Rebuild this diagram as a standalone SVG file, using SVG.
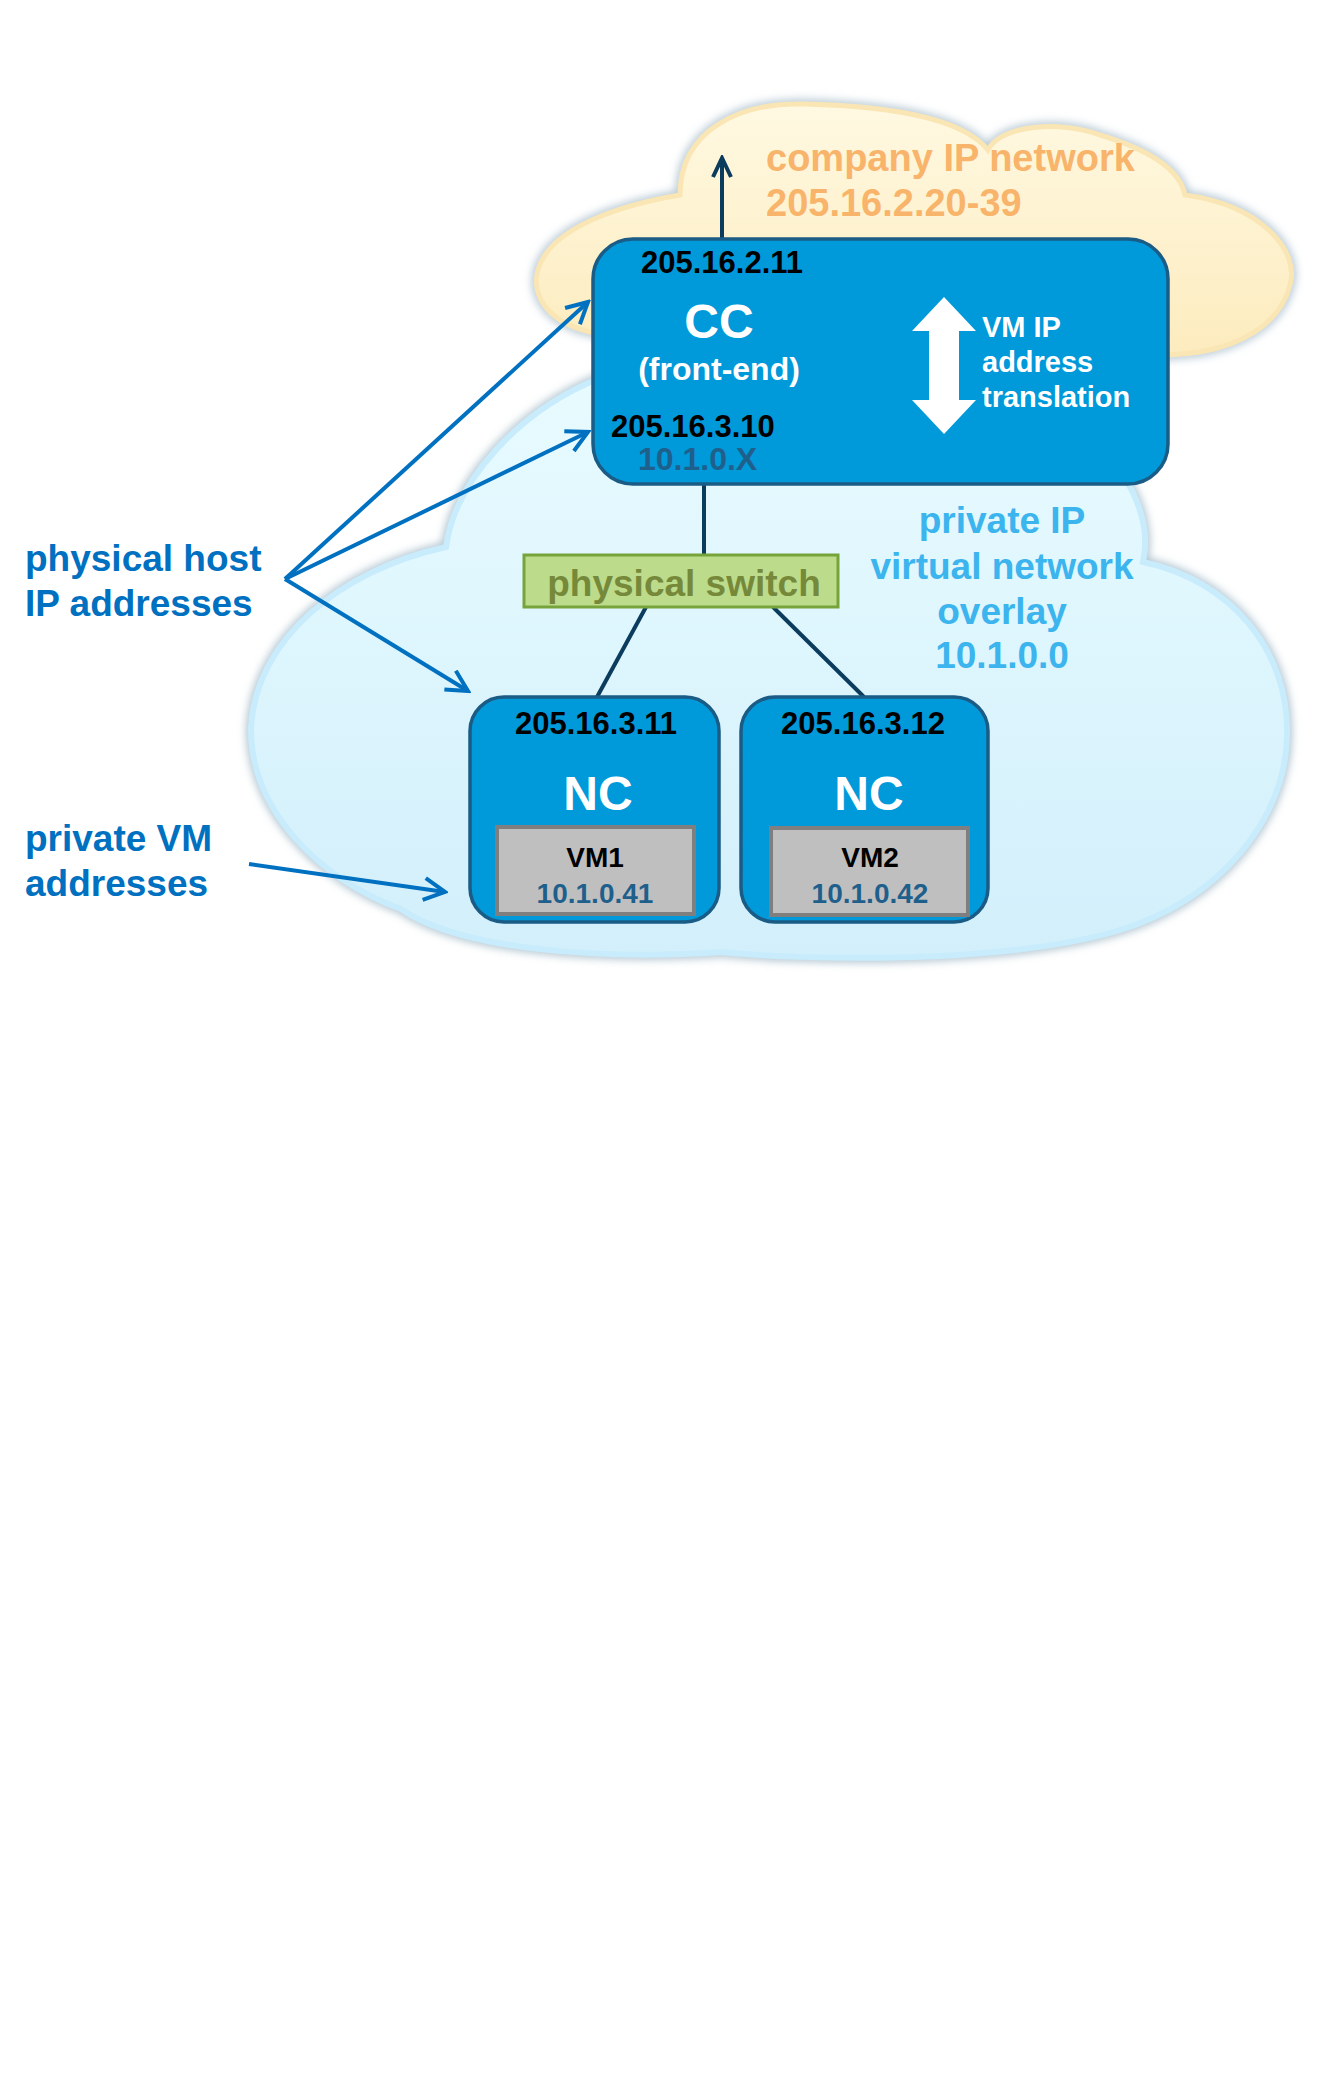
<svg xmlns="http://www.w3.org/2000/svg" width="1322" height="2097" viewBox="0 0 1322 2097">
<defs>
<style>
text{font-family:"Liberation Sans",Arial,sans-serif;font-weight:bold}
.box{fill:#0099d9;stroke:#1a5c85;stroke-width:3.5}
.vm{fill:#bfbfbf;stroke:#7f7f7f;stroke-width:4}
.ip{fill:#000;font-size:31px}
.big{fill:#fff;font-size:48px}
.wt{fill:#fff}
.dk{fill:#1f5f8c}
.lbl{fill:#0070c0;font-size:37px}
.ov{fill:#3cb4ee;font-size:37px;text-anchor:middle}
.net{stroke:#0b3c5d;stroke-width:4;fill:none}
.ptr{stroke:#0070c0;stroke-width:4;fill:none}
.mid{text-anchor:middle}
</style>
<linearGradient id="gy" x1="0" y1="0" x2="0" y2="1">
<stop offset="0" stop-color="#fff9e2"/>
<stop offset="1" stop-color="#fcebbd"/>
</linearGradient>
<linearGradient id="gb" x1="0" y1="0" x2="0" y2="1">
<stop offset="0" stop-color="#e9fcff"/>
<stop offset="1" stop-color="#d2effb"/>
</linearGradient>
<filter id="blur" x="-10%" y="-10%" width="120%" height="120%">
<feGaussianBlur stdDeviation="4"/>
</filter>
<marker id="ah" markerUnits="userSpaceOnUse" markerWidth="30" markerHeight="30" viewBox="0 0 30 30" refX="27" refY="15" orient="auto">
<path d="M6,4 L27,15 L6,26" fill="none" stroke="#0070c0" stroke-width="4"/>
</marker>
<marker id="ahd" markerUnits="userSpaceOnUse" markerWidth="30" markerHeight="30" viewBox="0 0 30 30" refX="27" refY="15" orient="auto">
<path d="M8,6 L27,15 L8,24" fill="none" stroke="#0b3c5d" stroke-width="4"/>
</marker>
</defs>
<rect width="1322" height="2097" fill="#fff"/>

<g id="company-cloud">
<path d="M590,332 C540,320 525,285 545,255 C565,225 620,205 680,195 C680,130 740,102 805,104 C880,106 960,115 988,150 C1000,125 1060,120 1100,135 C1150,150 1180,170 1185,195 C1260,205 1300,250 1290,285 C1280,325 1240,345 1200,352 C1100,365 700,362 590,332 Z" fill="none" stroke="#b4c6d2" stroke-width="9" filter="url(#blur)"/>
<path d="M590,332 C540,320 525,285 545,255 C565,225 620,205 680,195 C680,130 740,102 805,104 C880,106 960,115 988,150 C1000,125 1060,120 1100,135 C1150,150 1180,170 1185,195 C1260,205 1300,250 1290,285 C1280,325 1240,345 1200,352 C1100,365 700,362 590,332 Z" fill="url(#gy)" stroke="#f9e6b4" stroke-width="5"/>
<text x="766" y="171" fill="#f9b46b" style="font-size:38px">company IP network</text>
<text x="766" y="216" fill="#f9b46b" style="font-size:38px">205.16.2.20-39</text>
</g>

<g id="private-cloud">
<path d="M251,728 C255,640 340,570 446,547 C455,480 520,410 600,378 C700,320 1050,330 1120,470 C1140,500 1150,530 1143,562 C1230,580 1290,650 1287,737 C1285,820 1220,900 1117,931 C1000,965 800,960 722,952 C600,960 460,950 401,909 C320,880 250,810 251,728 Z" fill="none" stroke="#a9bfcc" stroke-width="9" filter="url(#blur)"/>
<path d="M251,728 C255,640 340,570 446,547 C455,480 520,410 600,378 C700,320 1050,330 1120,470 C1140,500 1150,530 1143,562 C1230,580 1290,650 1287,737 C1285,820 1220,900 1117,931 C1000,965 800,960 722,952 C600,960 460,950 401,909 C320,880 250,810 251,728 Z" fill="url(#gb)" stroke="#c8ecfb" stroke-width="6"/>
<text class="ov" x="1002" y="533">private IP</text>
<text class="ov" x="1002" y="579">virtual network</text>
<text class="ov" x="1002" y="624">overlay</text>
<text class="ov" x="1002" y="668">10.1.0.0</text>
</g>

<g id="connectors">
<line class="net" x1="722" y1="239" x2="722" y2="158" marker-end="url(#ahd)"/>
<line class="net" x1="704" y1="484" x2="704" y2="555"/>
<line class="net" x1="646" y1="607" x2="597" y2="697"/>
<line class="net" x1="773" y1="607" x2="864" y2="697"/>
<line class="ptr" x1="285" y1="579" x2="588" y2="302" marker-end="url(#ah)"/>
<line class="ptr" x1="285" y1="579" x2="588" y2="432" marker-end="url(#ah)"/>
<line class="ptr" x1="285" y1="579" x2="468" y2="691" marker-end="url(#ah)"/>
<line class="ptr" x1="249" y1="864" x2="445" y2="892" marker-end="url(#ah)"/>
</g>

<g id="cc">
<rect class="box" x="593" y="239" width="575" height="245" rx="40"/>
<text class="ip mid" x="722" y="273">205.16.2.11</text>
<text class="big mid" x="719" y="338">CC</text>
<text class="wt mid" x="719" y="380" style="font-size:32px">(front-end)</text>
<text class="ip" x="611" y="437">205.16.3.10</text>
<text class="dk" x="638" y="470" style="font-size:32px">10.1.0.X</text>
<polygon fill="#fff" points="944,297 976,331 959,331 959,400 976,400 944,434 912,400 929,400 929,331 912,331"/>
<text class="wt" x="982" y="337" style="font-size:29px">VM IP</text>
<text class="wt" x="982" y="372" style="font-size:29px">address</text>
<text class="wt" x="982" y="407" style="font-size:29px">translation</text>
</g>

<g id="switch">
<rect x="524" y="555" width="314" height="52" fill="#bcdc8c" stroke="#76a33a" stroke-width="3"/>
<text class="mid" x="684" y="596" fill="#76893a" style="font-size:37px">physical switch</text>
</g>

<g id="nc1">
<rect class="box" x="470" y="697" width="249" height="225" rx="34"/>
<text class="ip mid" x="596" y="734">205.16.3.11</text>
<text class="big mid" x="598" y="810">NC</text>
<rect class="vm" x="497" y="827" width="197" height="87"/>
<text class="mid" x="595" y="867" style="font-size:28px">VM1</text>
<text class="dk mid" x="595" y="903" style="font-size:28px">10.1.0.41</text>
</g>

<g id="nc2">
<rect class="box" x="741" y="697" width="247" height="225" rx="34"/>
<text class="ip mid" x="863" y="734">205.16.3.12</text>
<text class="big mid" x="869" y="810">NC</text>
<rect class="vm" x="771" y="828" width="197" height="87"/>
<text class="mid" x="870" y="867" style="font-size:28px">VM2</text>
<text class="dk mid" x="870" y="903" style="font-size:28px">10.1.0.42</text>
</g>

<g id="labels">
<text class="lbl" x="25" y="571">physical host</text>
<text class="lbl" x="25" y="616">IP addresses</text>
<text class="lbl" x="25" y="851">private VM</text>
<text class="lbl" x="25" y="896">addresses</text>
</g>
</svg>
